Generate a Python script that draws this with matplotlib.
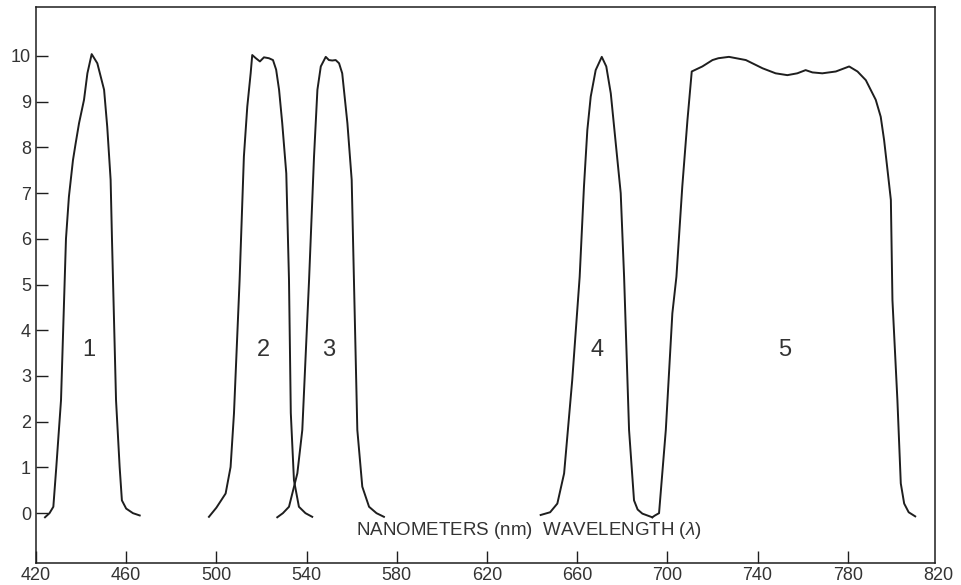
import numpy as np
import matplotlib
matplotlib.use("Agg")
import matplotlib.pyplot as plt
from matplotlib import rc

rc('font', family='Liberation Sans')
rc('mathtext', fontset='custom', rm='Liberation Sans', it='Liberation Sans:italic')

# transmission curves (wavelength nm, relative value)
x1 = [424, 426, 427.7, 429, 431.1, 433.3, 434.6, 436.4, 437.6, 439.1, 441.3, 442.8,
      444.7, 447.2, 450.2, 451.6, 453.1, 453.7, 455.5, 457.1, 458.1, 460, 463, 466]
y1 = [-0.09, 0.0, 0.14, 1.0, 2.47, 6.0, 6.92, 7.72, 8.09, 8.53, 9.04, 9.62,
      10.04, 9.84, 9.26, 8.45, 7.29, 6.0, 2.47, 1.01, 0.28, 0.1, 0.0, -0.05]

x2 = [496.7, 500, 504.1, 506.3, 507.8, 510.3, 512.2, 513.7, 515.2, 515.9, 517.5,
      519.3, 521.1, 523.3, 525.1, 526.5, 527.8, 529.2, 531, 532.2, 533, 534.4,
      536.6, 539.5, 542.5]
y2 = [-0.08, 0.12, 0.43, 1.01, 2.18, 5.1, 7.8, 8.89, 9.62, 10.02, 9.95,
      9.88, 9.97, 9.95, 9.91, 9.7, 9.26, 8.53, 7.43, 5.1, 2.19, 0.72,
      0.14, 0.0, -0.08]

x3 = [527, 529.5, 532.2, 535.9, 538.1, 541.1, 543.3, 544.8, 546.3, 548.5, 549.9,
      551.4, 552.9, 554.4, 555.8, 558.1, 560, 561, 562.5, 564.7, 567.7, 571, 574.3]
y3 = [-0.09, 0.0, 0.14, 0.87, 1.82, 5.1, 7.8, 9.26, 9.77, 9.98, 9.91,
      9.9, 9.91, 9.84, 9.62, 8.53, 7.29, 5.1, 1.82, 0.58, 0.14, 0.0, -0.08]

x4 = [643.8, 648, 651.2, 654.2, 657.8, 661.1, 663, 664.5, 666, 668.2, 670.9,
      672.9, 674.9, 677.1, 679.3, 680.8, 683, 685.2, 686.8, 688.9, 693.3]
y4 = [-0.04, 0.02, 0.21, 0.87, 2.91, 5.17, 7.14, 8.38, 9.11, 9.69, 9.98,
      9.77, 9.18, 8.09, 7.0, 5.17, 1.82, 0.28, 0.08, -0.01, -0.09]

x5 = [693.3, 694.5, 696.3, 699.3, 702.2, 704, 706.6, 708.9, 710.8, 715.5, 720,
      722.6, 727.3, 734.8, 742.2, 748, 753.2, 757.6, 761.3, 764.3, 768.7, 774.7,
      780.6, 784.3, 788, 792.4, 794.6, 796.1, 797.6, 799.1, 799.8, 802, 803.5,
      805, 807, 809.9]
y5 = [-0.09, -0.05, 0.0, 1.82, 4.37, 5.17, 7.14, 8.6, 9.66, 9.77, 9.91,
      9.95, 9.98, 9.91, 9.73, 9.62, 9.58, 9.62, 9.69, 9.64, 9.62, 9.66,
      9.77, 9.66, 9.47, 9.04, 8.67, 8.16, 7.51, 6.85, 4.66, 2.47, 0.65,
      0.21, 0.02, -0.07]

curves = [(x1, y1), (x2, y2), (x3, y3), (x4, y4), (x5, y5)]
curve_labels = ["1", "2", "3", "4", "5"]
label_x = [443.5, 520.7, 550, 668.8, 752]
label_y = [3.57, 3.57, 3.57, 3.57, 3.57]

xticks = [420, 460, 500, 540, 580, 620, 660, 700, 740, 780]
yticks = [0, 1, 2, 3, 4, 5, 6, 7, 8, 9, 10]

ink = "#1e1e1e"
txt = "#333333"

fig = plt.figure(figsize=(9.62, 5.85), dpi=100)
ax = fig.add_axes([0.0374, 0.0376, 0.9346, 0.9504])

for xs, ys in curves:
    ax.plot(xs, ys, color=ink, linewidth=1.4, solid_joinstyle="round")

for lab, lx, ly in zip(curve_labels, label_x, label_y):
    ax.text(lx, ly, lab, ha="center", va="center", fontsize=17, color=txt)

ax.text(638.7, -0.39, "NANOMETERS (nm)  WAVELENGTH ($\\lambda$)",
        ha="center", va="center", fontsize=13.5, color=txt)

ax.set_xlim(420, 818.7)
ax.set_ylim(-1.09, 11.07)
ax.set_xticks(xticks)
ax.set_yticks(yticks)
ax.tick_params(direction="in", length=8.5, width=1.0, color=ink,
               labelsize=13, labelcolor=txt)
ax.tick_params(axis="x", pad=3)
ax.tick_params(axis="y", pad=3.5)
# 820 sits just past the right frame, so it is placed by hand
ax.annotate("820", xy=(820, 0), xycoords=ax.get_xaxis_transform(),
            xytext=(0, -3), textcoords="offset points",
            ha="center", va="top", fontsize=13, color=txt, annotation_clip=False)

for s in ax.spines.values():
    s.set_linewidth(1.1)
    s.set_color(ink)

fig.savefig("out.png", dpi=100)
